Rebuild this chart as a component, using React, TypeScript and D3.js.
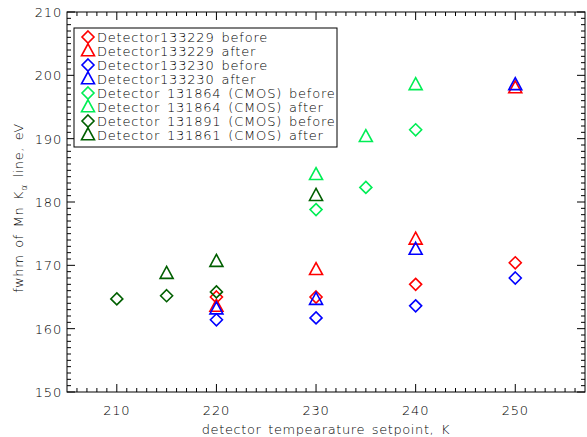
import React from 'react'
import * as d3 from 'd3'

// temperature setpoints (K) and fwhm (eV) per detector
const d133229BeforeT = [220, 230, 240, 250]
const d133229BeforeV = [165.0, 165.0, 167.0, 170.4]
const d133229AfterT = [220, 230, 240, 250]
const d133229AfterV = [163.5, 169.3, 174.1, 198.0]
const d133230BeforeT = [220, 230, 240, 250]
const d133230BeforeV = [161.4, 161.7, 163.6, 168.0]
const d133230AfterT = [220, 230, 240, 250]
const d133230AfterV = [163.1, 164.6, 172.5, 198.5]
const d131864BeforeT = [230, 235, 240]
const d131864BeforeV = [178.8, 182.3, 191.4]
const d131864AfterT = [230, 235, 240]
const d131864AfterV = [184.3, 190.3, 198.5]
const d131891BeforeT = [210, 215, 220]
const d131891BeforeV = [164.7, 165.2, 165.8]
const d131861AfterT = [215, 220, 230]
const d131861AfterV = [168.7, 170.6, 181.0]

const seriesNames = [
  'Detector133229 before',
  'Detector133229 after',
  'Detector133230 before',
  'Detector133230 after',
  'Detector 131864 (CMOS) before',
  'Detector 131864 (CMOS) after',
  'Detector 131891 (CMOS) before',
  'Detector 131861 (CMOS) after',
]
const seriesColors = ['#ff0000', '#ff0000', '#0000ff', '#0000ff', '#00ee55', '#00ee55', '#005f00', '#005f00']
const seriesShapes = ['diamond', 'triangle', 'diamond', 'triangle', 'diamond', 'triangle', 'diamond', 'triangle']
const seriesT = [d133229BeforeT, d133229AfterT, d133230BeforeT, d133230AfterT, d131864BeforeT, d131864AfterT, d131891BeforeT, d131861AfterT]
const seriesV = [d133229BeforeV, d133229AfterV, d133230BeforeV, d133230AfterV, d131864BeforeV, d131864AfterV, d131891BeforeV, d131861AfterV]

const xTicks = [210, 220, 230, 240, 250]
const yTicks = [150, 160, 170, 180, 190, 200, 210]

const W = 587
const H = 437
const left = 67
const right = 585
const top = 12
const bottom = 392
const font = '"DejaVu Sans", sans-serif'

const marker = (shape: string, cx: number, cy: number) => {
  if (shape === 'diamond') {
    const r = 6
    return `M${cx},${cy - r}L${cx + r},${cy}L${cx},${cy + r}L${cx - r},${cy}Z`
  }
  const w = 6.5
  const h = 12
  return `M${cx},${cy - h * 0.6}L${cx + w},${cy + h * 0.4}L${cx - w},${cy + h * 0.4}Z`
}

const App = () => {
  const x = d3.scaleLinear().domain([205, 257]).range([left, right])
  const y = d3.scaleLinear().domain([150, 210]).range([bottom, top])
  const xMinor = d3.range(206, 257, 1).filter((t) => t % 10 !== 0)
  const yMinor = d3.range(151, 210, 1).filter((t) => t % 10 !== 0)

  const lx = 74
  const ly = 28
  const rowH = 14

  return (
    <svg width={W} height={H} style={{ position: 'absolute', left: 0, top: 0, background: '#fff' }}
      fontFamily={font} fontSize={13} fontWeight={200} letterSpacing={0.8} fill="#000">
      <rect x={0} y={0} width={W} height={H} fill="#fff" />
      <g stroke="#000" strokeWidth={1} fill="none">
        <rect x={left} y={top} width={right - left} height={bottom - top} />
        {xTicks.map((t) => (
          <g key={`xt${t}`}>
            <line x1={x(t)} x2={x(t)} y1={bottom} y2={bottom - 8} />
            <line x1={x(t)} x2={x(t)} y1={top} y2={top + 8} />
          </g>
        ))}
        {xMinor.map((t) => (
          <g key={`xm${t}`}>
            <line x1={x(t)} x2={x(t)} y1={bottom} y2={bottom - 4} />
            <line x1={x(t)} x2={x(t)} y1={top} y2={top + 4} />
          </g>
        ))}
        {yTicks.map((t) => (
          <g key={`yt${t}`}>
            <line x1={left} x2={left + 8} y1={y(t)} y2={y(t)} />
            <line x1={right} x2={right - 8} y1={y(t)} y2={y(t)} />
          </g>
        ))}
        {yMinor.map((t) => (
          <g key={`ym${t}`}>
            <line x1={left} x2={left + 4} y1={y(t)} y2={y(t)} />
            <line x1={right} x2={right - 4} y1={y(t)} y2={y(t)} />
          </g>
        ))}
      </g>

      {xTicks.map((t) => (
        <text key={`xl${t}`} x={x(t)} y={bottom + 23} textAnchor="middle">{t}</text>
      ))}
      {yTicks.map((t) => (
        <text key={`yl${t}`} x={left - 5} y={y(t) + 5} textAnchor="end">{t}</text>
      ))}

      <text x={(left + right) / 2} y={bottom + 42} textAnchor="middle" letterSpacing={0.6} wordSpacing={2}>
        detector tempearature setpoint, K
      </text>
      <text transform={`translate(23,${(top + bottom) / 2 + 6}) rotate(-90)`} textAnchor="middle" letterSpacing={0.6} wordSpacing={2}>
        fwhm of Mn K<tspan fontSize={9} dy={4}>α</tspan><tspan dy={-4}> line, eV</tspan>
      </text>

      {seriesNames.map((name, i) => (
        <g key={name} fill="none" stroke={seriesColors[i]} strokeWidth={1.6}>
          {seriesT[i].map((t, j) => (
            <path key={j} d={marker(seriesShapes[i], x(t), y(seriesV[i][j]))} />
          ))}
        </g>
      ))}

      <rect x={lx} y={ly} width={337 - lx} height={147 - ly} fill="#fff" stroke="#000" strokeWidth={1} />
      {seriesNames.map((name, i) => {
        const cy = ly + 9 + i * rowH
        return (
          <g key={`lg${i}`}>
            <path d={marker(seriesShapes[i], 88, cy)} fill="none" stroke={seriesColors[i]} strokeWidth={1.6} />
            <text x={97} y={cy + 5} wordSpacing={2}>{name}</text>
          </g>
        )
      })}
    </svg>
  )
}

export default App
